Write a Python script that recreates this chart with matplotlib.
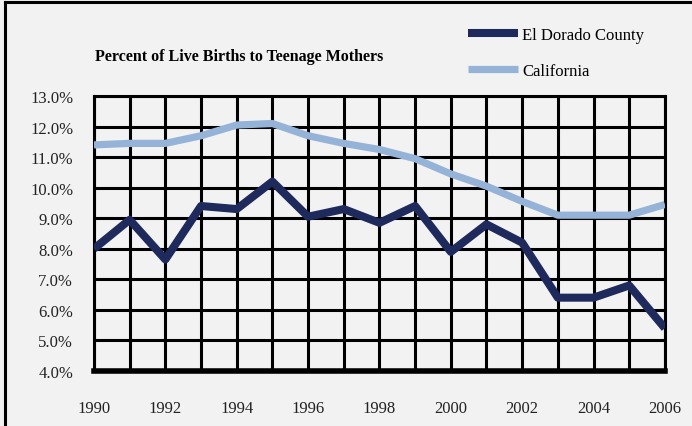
import matplotlib
matplotlib.use("Agg")
import matplotlib.pyplot as plt
from matplotlib.lines import Line2D

anos = list(range(1990, 2007))
el_dorado = [8.0, 8.95, 7.65, 9.4, 9.3, 10.2, 9.05, 9.3, 8.85, 9.4, 7.9, 8.8, 8.2, 6.4, 6.4, 6.8, 5.4]
california = [11.4, 11.45, 11.45, 11.7, 12.05, 12.1, 11.7, 11.45, 11.25, 10.95, 10.45, 10.05, 9.55, 9.1, 9.1, 9.1, 9.45]
y_ticks = [4, 5, 6, 7, 8, 9, 10, 11, 12, 13]
x_ticks = list(range(1990, 2007, 2))

plt.rcParams["font.family"] = ["Liberation Serif", "DejaVu Serif"]

fig = plt.figure(figsize=(6.92, 4.27), dpi=100, facecolor="#f2f2f2")
ax = fig.add_axes([0.1358, 0.1288, 0.825, 0.644])
ax.set_facecolor("#f2f2f2")

# borda da figura (topo e esquerda)
fig.add_artist(Line2D([0.007, 0.007], [0, 0.992], transform=fig.transFigure, color="black", lw=2.2))
fig.add_artist(Line2D([0.007, 1], [0.992, 0.992], transform=fig.transFigure, color="black", lw=2.2))

ax.plot(anos, el_dorado, color="#1f2a5c", lw=5.8, label="El Dorado County", solid_capstyle="butt", zorder=3)
ax.plot(anos, california, color="#95b3d7", lw=5.2, label="California", solid_capstyle="butt", zorder=3)

ax.set_xlim(1990, 2006)
ax.set_ylim(4, 13)
ax.set_yticks(y_ticks)
ax.set_yticklabels([f"{v:.1f}%" for v in y_ticks])
ax.set_xticks(anos, minor=True)
ax.set_xticks(x_ticks)
ax.set_xticklabels([str(a) for a in x_ticks])

ax.grid(True, which="both", axis="x", color="black", lw=2.2)
ax.grid(True, which="major", axis="y", color="black", lw=2.2)
ax.set_axisbelow(True)
for lado in ["top", "left", "right"]:
    ax.spines[lado].set_linewidth(2.2)
ax.spines["bottom"].set_linewidth(4)
ax.tick_params(which="both", length=0)
ax.tick_params(axis="y", pad=15, labelsize=12, colors="#222222")
ax.tick_params(axis="x", pad=21, labelsize=12, colors="#222222")

fig.text(0.137, 0.858, "Percent of Live Births to Teenage Mothers", fontsize=11.5, fontweight="bold")

fig.legend(loc="upper left", bbox_to_anchor=(0.655, 0.97), frameon=False, fontsize=12,
           handlelength=3.0, handletextpad=0.25, labelspacing=1.2)

fig.savefig("out.png", dpi=100, facecolor=fig.get_facecolor())
